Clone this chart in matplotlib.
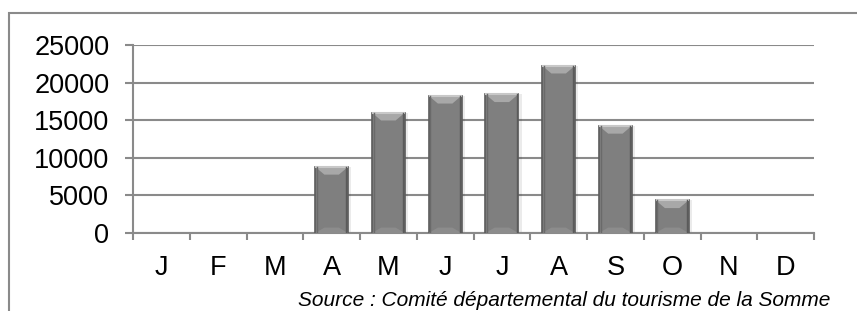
import matplotlib.pyplot as plt
from matplotlib.patches import Rectangle, Polygon

# Monthly values
months = ['J', 'F', 'M', 'A', 'M', 'J', 'J', 'A', 'S', 'O', 'N', 'D']
values = [0, 0, 0, 8800, 16000, 18250, 18450, 22250, 14250, 4350, 0, 0]
yticks = [0, 5000, 10000, 15000, 20000, 25000]
source = 'Source : Comité départemental du tourisme de la Somme'

W, H = 857, 311
fig = plt.figure(figsize=(W / 100, H / 100), dpi=100)
plt.rcParams['font.family'] = ['Liberation Sans', 'DejaVu Sans']

ax = fig.add_axes([133 / W, 1 - 233 / H, (814 - 133) / W, (233 - 45) / H])

grey = '#8a8a8a'
bar_w = 0.58
x = list(range(len(months)))

# soft shadow behind the bars
for xi, v in zip(x, values):
    if v > 0:
        ax.bar(xi + 0.03, v, width=bar_w + 0.06, color='#000000', alpha=0.08, zorder=2)
bars = ax.bar(x, values, width=bar_w, color='#7f7f7f', edgecolor='#5c5c5c',
              linewidth=[1.2 if v > 0 else 0 for v in values], zorder=3)

# bevel on top of each bar
bevel_px = 6
px_per_unit = (233 - 45) / 25000
bevel = bevel_px / px_per_unit
for b, v in zip(bars, values):
    if v <= 0:
        continue
    x0 = b.get_x()
    x1 = x0 + b.get_width()
    dx = b.get_width() * 0.28
    top = Polygon([(x0, v), (x1, v), (x1 - dx, v - bevel * 1.3), (x0 + dx, v - bevel * 1.3)],
                  closed=True, facecolor='#a8a8a8', edgecolor='none', zorder=4)
    ax.add_patch(top)
    ax.plot([x0, x1], [v, v], color='#c8c8c8', lw=1.5, zorder=5, solid_capstyle='butt')
    bot = Polygon([(x0, 0), (x1, 0), (x1 - dx, bevel * 0.9), (x0 + dx, bevel * 0.9)],
                  closed=True, facecolor='#8c8c8c', edgecolor='none', zorder=4)
    ax.add_patch(bot)
    ax.plot([x0 + 0.03, x0 + 0.03], [0, v], color='#6a6a6a', lw=1.0, zorder=5)
    ax.plot([x1 - 0.03, x1 - 0.03], [0, v], color='#5a5a5a', lw=1.0, zorder=5)

ax.set_xlim(-0.5, len(months) - 0.5)
ax.set_ylim(0, 25000)
ax.set_yticks(yticks)
ax.set_yticklabels([str(t) for t in yticks], fontsize=19.5)
ax.yaxis.grid(True, color=grey, linewidth=1.5, zorder=1)
ax.set_axisbelow(True)

# category boundaries as ticks, labels at centres
ax.set_xticks([i - 0.5 for i in range(len(months) + 1)])
ax.set_xticklabels([])
ax.set_xticks(x, minor=True)
ax.set_xticklabels(months, minor=True, fontsize=19.5)
ax.tick_params(axis='x', which='major', length=5, width=1.5, color=grey, direction='out')
ax.tick_params(axis='x', which='minor', length=0, pad=16)
ax.tick_params(axis='y', length=6, width=1.5, color=grey, direction='out', pad=11)

for s in ['top', 'right']:
    ax.spines[s].set_visible(False)
for s in ['left', 'bottom']:
    ax.spines[s].set_color(grey)
    ax.spines[s].set_linewidth(1.5)

# chart frame (cut off at the right and bottom)
fig.patches.append(Rectangle((9 / W, -0.1), 1.2, 1 - 13 / H + 0.1, transform=fig.transFigure,
                             fill=False, edgecolor=grey, linewidth=1.5))

fig.text(830 / W, 5 / H, source, ha='right', va='baseline', fontsize=15, style='italic')

fig.savefig('out.png', dpi=100)
